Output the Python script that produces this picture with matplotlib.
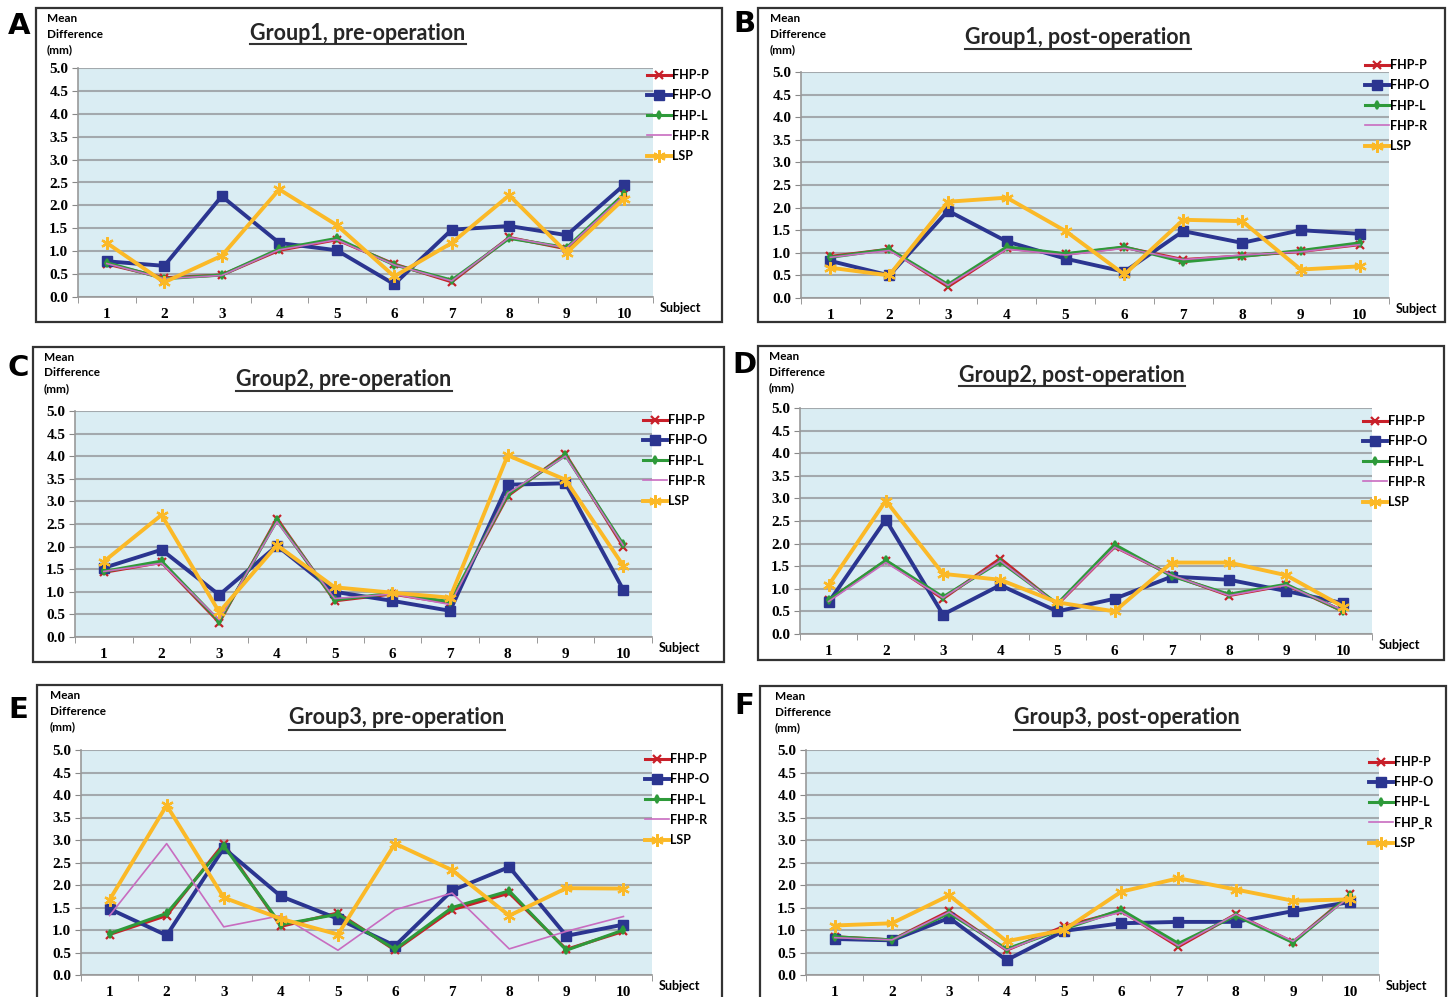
import matplotlib
matplotlib.use("Agg")
import matplotlib.pyplot as plt
from matplotlib.lines import Line2D
from matplotlib.patches import Rectangle

W, H = 1453, 997

subjects = list(range(1, 11))
series_names = ["FHP-P", "FHP-O", "FHP-L", "FHP-R", "LSP"]

# Group1, pre-operation
g1_pre_fhp_p = [0.72, 0.42, 0.48, 1.02, 1.25, 0.72, 0.33, 1.30, 1.05, 2.25]
g1_pre_fhp_o = [0.78, 0.68, 2.20, 1.18, 1.02, 0.28, 1.47, 1.55, 1.35, 2.45]
g1_pre_fhp_l = [0.75, 0.40, 0.48, 1.05, 1.28, 0.70, 0.37, 1.28, 1.08, 2.25]
g1_pre_fhp_r = [0.73, 0.40, 0.47, 1.03, 1.25, 0.70, 0.35, 1.30, 1.07, 2.22]
g1_pre_lsp = [1.18, 0.32, 0.90, 2.35, 1.57, 0.45, 1.18, 2.22, 0.97, 2.15]

# Group1, post-operation
g1_post_fhp_p = [0.92, 1.08, 0.25, 1.10, 0.97, 1.12, 0.85, 0.93, 1.03, 1.18]
g1_post_fhp_o = [0.82, 0.50, 1.93, 1.25, 0.87, 0.58, 1.48, 1.22, 1.50, 1.42]
g1_post_fhp_l = [0.90, 1.08, 0.30, 1.13, 0.98, 1.13, 0.80, 0.92, 1.05, 1.22]
g1_post_fhp_r = [0.90, 1.05, 0.28, 1.08, 0.95, 1.10, 0.85, 0.95, 1.02, 1.18]
g1_post_lsp = [0.67, 0.50, 2.13, 2.22, 1.48, 0.52, 1.73, 1.70, 0.63, 0.70]

# Group2, pre-operation
g2_pre_fhp_p = [1.43, 1.65, 0.32, 2.62, 0.80, 0.95, 0.75, 3.12, 4.05, 2.00]
g2_pre_fhp_o = [1.53, 1.93, 0.93, 2.02, 1.00, 0.80, 0.58, 3.37, 3.40, 1.05]
g2_pre_fhp_l = [1.45, 1.68, 0.35, 2.58, 0.82, 0.97, 0.78, 3.15, 4.02, 2.05]
g2_pre_fhp_r = [1.45, 1.63, 0.38, 2.55, 0.85, 0.95, 0.72, 3.18, 4.00, 2.03]
g2_pre_lsp = [1.67, 2.70, 0.55, 2.03, 1.10, 0.98, 0.87, 4.02, 3.48, 1.58]

# Group2, post-operation
g2_post_fhp_p = [0.75, 1.62, 0.78, 1.67, 0.65, 1.93, 1.30, 0.85, 1.08, 0.50]
g2_post_fhp_o = [0.70, 2.53, 0.43, 1.08, 0.50, 0.78, 1.27, 1.20, 0.95, 0.68]
g2_post_fhp_l = [0.75, 1.63, 0.82, 1.60, 0.67, 1.98, 1.28, 0.88, 1.10, 0.50]
g2_post_fhp_r = [0.72, 1.58, 0.80, 1.62, 0.65, 1.92, 1.30, 0.85, 1.08, 0.52]
g2_post_lsp = [1.08, 2.95, 1.33, 1.20, 0.70, 0.50, 1.58, 1.58, 1.30, 0.60]

# Group3, pre-operation
g3_pre_fhp_p = [0.90, 1.32, 2.92, 1.08, 1.38, 0.55, 1.45, 1.82, 0.57, 0.97]
g3_pre_fhp_o = [1.47, 0.88, 2.82, 1.75, 1.25, 0.65, 1.88, 2.40, 0.87, 1.12]
g3_pre_fhp_l = [0.92, 1.37, 2.87, 1.12, 1.35, 0.57, 1.50, 1.87, 0.55, 1.00]
g3_pre_fhp_r = [1.32, 2.92, 1.07, 1.32, 0.55, 1.45, 1.82, 0.58, 0.97, 1.30]
g3_pre_lsp = [1.67, 3.77, 1.72, 1.25, 0.90, 2.92, 2.33, 1.32, 1.93, 1.92]

# Group3, post-operation
g3_post_fhp_p = [0.85, 0.78, 1.42, 0.55, 1.08, 1.42, 0.63, 1.35, 0.73, 1.80]
g3_post_fhp_o = [0.80, 0.77, 1.27, 0.33, 0.98, 1.15, 1.18, 1.18, 1.42, 1.62]
g3_post_fhp_l = [0.85, 0.78, 1.37, 0.58, 1.02, 1.45, 0.70, 1.32, 0.72, 1.78]
g3_post_fhp_r = [0.83, 0.78, 1.40, 0.55, 1.05, 1.40, 0.65, 1.35, 0.75, 1.75]
g3_post_lsp = [1.10, 1.15, 1.77, 0.75, 1.00, 1.85, 2.15, 1.90, 1.65, 1.68]

titles = ["Group1, pre-operation", "Group1, post-operation",
          "Group2, pre-operation", "Group2, post-operation",
          "Group3, pre-operation", "Group3, post-operation"]
letters = ["A", "B", "C", "D", "E", "F"]
panel_data = [
    [g1_pre_fhp_p, g1_pre_fhp_o, g1_pre_fhp_l, g1_pre_fhp_r, g1_pre_lsp],
    [g1_post_fhp_p, g1_post_fhp_o, g1_post_fhp_l, g1_post_fhp_r, g1_post_lsp],
    [g2_pre_fhp_p, g2_pre_fhp_o, g2_pre_fhp_l, g2_pre_fhp_r, g2_pre_lsp],
    [g2_post_fhp_p, g2_post_fhp_o, g2_post_fhp_l, g2_post_fhp_r, g2_post_lsp],
    [g3_pre_fhp_p, g3_pre_fhp_o, g3_pre_fhp_l, g3_pre_fhp_r, g3_pre_lsp],
    [g3_post_fhp_p, g3_post_fhp_o, g3_post_fhp_l, g3_post_fhp_r, g3_post_lsp],
]
legend_labels = [series_names] * 5 + [["FHP-P", "FHP-O", "FHP-L", "FHP_R", "LSP"]]

# layout in pixels (x0, y0, x1, y1), y measured from top
boxes = [(36, 8, 722, 322), (758, 8, 1445, 322),
         (33, 347, 724, 662), (758, 346, 1444, 660),
         (37, 685, 722, 1002), (760, 686, 1446, 1002)]
plots = [(78, 68, 653, 297), (801, 72, 1389, 298),
         (75, 411, 652, 637), (800, 408, 1372, 634),
         (81, 750, 652, 975), (806, 750, 1379, 975)]
title_pos = [(358, 32), (1078, 37), (344, 379), (1072, 374), (397, 717), (1127, 717)]
letter_pos = [(19, 26), (744, 24), (18, 368), (744, 365), (18, 710), (744, 706)]
legend_pos = [(653, 78), (1371, 68), (649, 423), (1369, 424), (651, 762), (1375, 765)]

colors = ["#c8202a", "#2b3590", "#2e9a3a", "#c86cc0", "#fbb927"]
markers = ["x", "s", "d", None, (6, 2, 0)]
msizes = [6, 6.5, 4, 0, 9]
lwidths = [2.2, 2.8, 2.2, 1.2, 2.8]

sans = ["Lato", "DejaVu Sans"]
serif = ["Liberation Serif", "DejaVu Serif"]

fig = plt.figure(figsize=(W / 100, H / 100), dpi=100)


def fx(x):
    return x / W


def fy(y):
    return 1 - y / H


title_texts = []
for i in range(6):
    bx0, by0, bx1, by1 = boxes[i]
    fig.patches.append(Rectangle((fx(bx0), fy(by1)), fx(bx1 - bx0), (by1 - by0) / H,
                                 transform=fig.transFigure, fill=False,
                                 edgecolor="#333333", linewidth=1.6))
    px0, py0, px1, py1 = plots[i]
    ax = fig.add_axes([fx(px0), fy(py1), fx(px1 - px0), (py1 - py0) / H])
    ax.set_facecolor("#daedf3")
    for k in range(5):
        ax.plot(subjects, panel_data[i][k], color=colors[k], marker=markers[k],
                markersize=msizes[k], markeredgewidth=1.6 if k != 1 else 1,
                linewidth=lwidths[k], label=legend_labels[i][k], zorder=3 + k)
    ax.set_xlim(0.5, 10.5)
    ax.set_ylim(0, 5)
    yt = [v * 0.5 for v in range(11)]
    ax.set_yticks(yt)
    ax.set_yticklabels(["%.1f" % v for v in yt], fontfamily=serif,
                       fontweight="bold", fontsize=11)
    ax.set_xticks(subjects)
    ax.set_xticklabels([str(s) for s in subjects], fontfamily=serif,
                       fontweight="bold", fontsize=11)
    ax.set_xticks([v + 0.5 for v in range(0, 11)], minor=True)
    ax.tick_params(axis="x", which="major", length=0, pad=8)
    ax.tick_params(axis="x", which="minor", length=4, color="#888888", direction="out")
    ax.tick_params(axis="y", length=4, color="#888888", direction="out", pad=3)
    ax.grid(axis="y", color="#a3a9ad", linewidth=1.5, zorder=1)
    ax.set_axisbelow(True)
    for s in ["top", "right"]:
        ax.spines[s].set_visible(False)
    for s in ["left", "bottom"]:
        ax.spines[s].set_color("#999999")
        ax.spines[s].set_linewidth(1.2)

    ax.text(1.012, -0.05, "Subject", transform=ax.transAxes, fontfamily=sans,
            fontweight="bold", fontsize=9, ha="left", va="center")
    fig.text(fx(px0 - 31), fy(by0 + 5), "Mean\nDifference\n(mm)",
             fontfamily=sans, fontweight="bold", fontsize=8.5, ha="left", va="top",
             linespacing=1.5)

    lx, ly = letter_pos[i]
    fig.text(fx(lx), fy(ly), letters[i], fontfamily=["DejaVu Sans"], fontweight="bold",
             fontsize=21, ha="center", va="center")

    tx, ty = title_pos[i]
    t = fig.text(fx(tx), fy(ty + 1), titles[i], fontfamily=sans, fontweight="bold",
                 fontsize=15.5, color="#262626", ha="center", va="center")
    title_texts.append(t)

    gx, gy = legend_pos[i]
    handles, labels = ax.get_legend_handles_labels()
    fig.legend(handles, labels, loc="upper left",
               bbox_to_anchor=(fx(gx - 6), fy(gy - 9)), frameon=False,
               prop={"family": sans, "weight": "bold", "size": 9},
               handlelength=1.9, handletextpad=0.1, labelspacing=0.66,
               borderaxespad=0, borderpad=0)

# underline the titles
fig.canvas.draw()
renderer = fig.canvas.get_renderer()
for t in title_texts:
    bb = t.get_window_extent(renderer=renderer)
    y = bb.y0 - 1
    fig.add_artist(Line2D([bb.x0 / W, bb.x1 / W], [y / H, y / H],
                          transform=fig.transFigure, color="#333333", linewidth=1.5))

fig.savefig("out.png", dpi=100)
